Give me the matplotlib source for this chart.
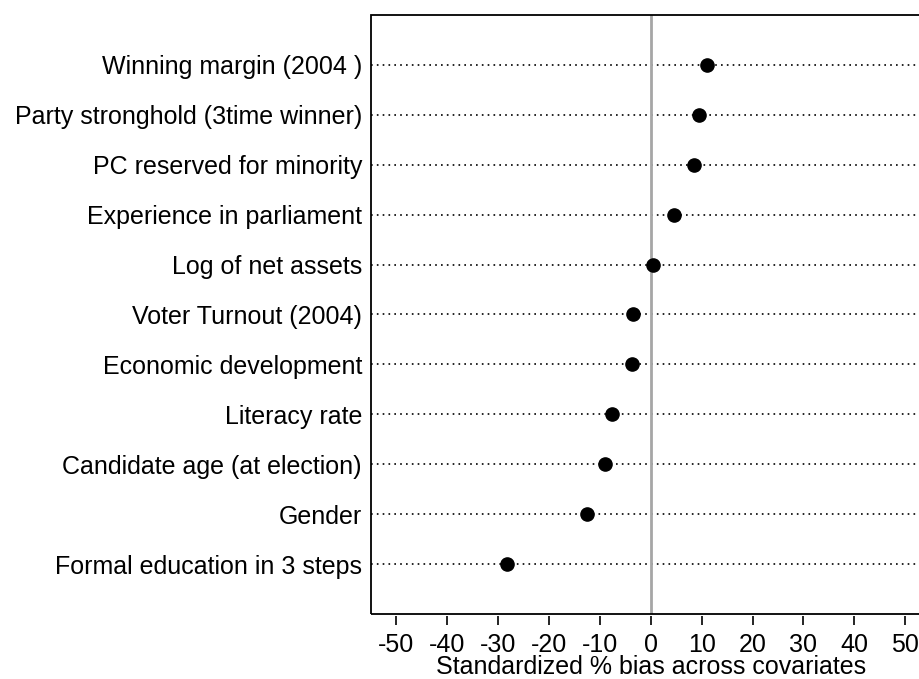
import matplotlib.pyplot as plt
from matplotlib.patches import Rectangle

# covariates, top to bottom
covariates = [
    'Winning margin (2004 )',
    'Party stronghold (3time winner)',
    'PC reserved for minority',
    'Experience in parliament',
    'Log of net assets',
    'Voter Turnout (2004)',
    'Economic development',
    'Literacy rate',
    'Candidate age (at election)',
    'Gender',
    'Formal education in 3 steps',
]
bias = [11.0, 9.5, 8.5, 4.6, 0.5, -3.6, -3.8, -7.7, -9.0, -12.6, -28.3]
xticks = [-50, -40, -30, -20, -10, 0, 10, 20, 30, 40, 50]

plt.rcParams['font.family'] = ['Liberation Sans', 'DejaVu Sans']
fs = 18

fig = plt.figure(figsize=(9.19, 6.79), dpi=100)
ax = fig.add_axes([0.4037, 0.0957, 0.609, 0.8823])

n = len(covariates)
ypos = list(range(n, 0, -1))

# dotted guide lines across the plot
for y in ypos:
    ax.axhline(y, color='black', linestyle=(0, (1, 2.5)), linewidth=1.2, zorder=1)

# zero reference
ax.axvline(0, color='#a6a6a6', linewidth=2, zorder=2)

ax.plot(bias, ypos, 'o', color='black', markersize=9.5, zorder=3, clip_on=False)

ax.set_xlim(-55, 55)
ax.set_ylim(0, n + 1)

# ticks stand a little off the frame
for s in ax.spines.values():
    s.set_visible(False)
ax.spines['bottom'].set_position(('outward', 1.5))
ax.add_patch(Rectangle((0, 0), 1, 1, transform=ax.transAxes, fill=False,
                       edgecolor='black', linewidth=1.3, clip_on=False, zorder=4))

ax.set_yticks(ypos)
ax.set_yticklabels(covariates)
ax.tick_params(axis='y', length=0, pad=6.5, labelsize=fs)

ax.set_xticks(xticks)
ax.set_xticklabels([str(t) for t in xticks])
ax.tick_params(axis='x', length=6.5, width=1.2, pad=5.5, direction='out', labelsize=fs)

ax.set_xlabel('Standardized % bias across covariates', fontsize=fs, labelpad=-1.5)

fig.savefig('out.png', dpi=100)
